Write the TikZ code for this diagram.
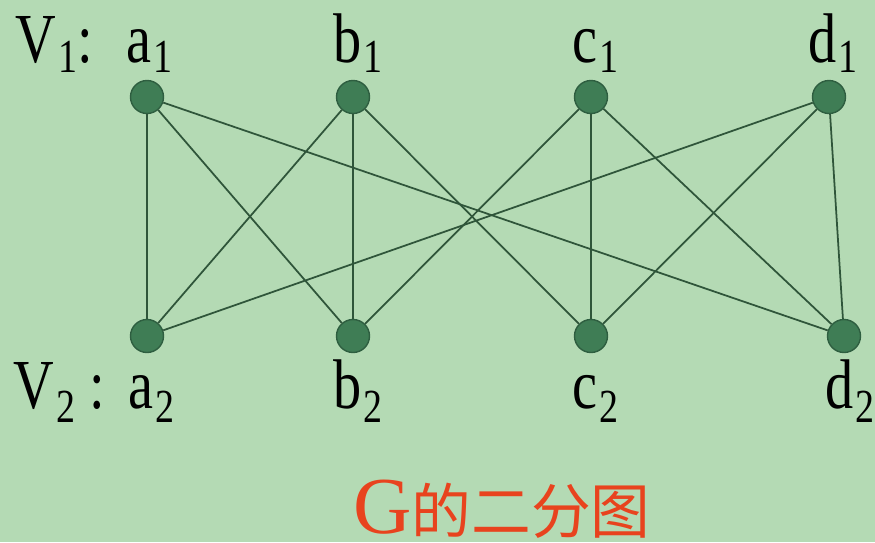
\documentclass[tikz,border=0pt]{standalone}
\usepackage{fontspec}
\setmainfont{Liberation Serif}
\newfontfamily\cjk{Noto Sans CJK SC}
\definecolor{bggreen}{HTML}{B4DAB4}
\definecolor{vertexfill}{HTML}{3F7D55}
\definecolor{vertexdraw}{HTML}{2E5E40}
\definecolor{edgecol}{HTML}{2F553A}
\definecolor{titlered}{HTML}{E8431E}
% letter with a lowered digit, squeezed like the slide font
\newcommand{\vsub}[3]{\scalebox{0.8}[1]{#1\kern1.5pt\raisebox{-#3}{\fontsize{27}{27}\selectfont #2}}}
\tikzset{
  vertex/.style={circle, fill=vertexfill, draw=vertexdraw, line width=0.8pt,
                 minimum size=0.66cm, inner sep=0pt},
  edge/.style={edgecol, line width=1pt},
  vlabel/.style={font=\fontsize{40}{44}\selectfont, inner sep=0pt, anchor=base west},
}

\begin{document}
\begin{tikzpicture}[x=0.02cm, y=-0.02cm]
    \fill[bggreen] (0,0) rectangle (875,542);
    \useasboundingbox (0,0) rectangle (875,542);
    % top part V1
    \node[vertex] (a1) at (147, 97) {};
    \node[vertex] (b1) at (353, 97) {};
    \node[vertex] (c1) at (591, 97) {};
    \node[vertex] (d1) at (829, 97) {};
    % bottom part V2
    \node[vertex] (a2) at (147, 336) {};
    \node[vertex] (b2) at (353, 336) {};
    \node[vertex] (c2) at (591, 336) {};
    \node[vertex] (d2) at (844, 336) {};
    \draw[edge] (a1) -- (a2);
    \draw[edge] (a1) -- (b2);
    \draw[edge] (a1) -- (d2);
    \draw[edge] (b1) -- (a2);
    \draw[edge] (b1) -- (b2);
    \draw[edge] (b1) -- (c2);
    \draw[edge] (c1) -- (b2);
    \draw[edge] (c1) -- (c2);
    \draw[edge] (c1) -- (d2);
    \draw[edge] (d1) -- (a2);
    \draw[edge] (d1) -- (c2);
    \draw[edge] (d1) -- (d2);
    % labels
    \node[vlabel] (lv1) at (15, 62) {\vsub{V}{1}{5.7pt}\scalebox{0.8}[1]{:}};
    \node[vlabel] (la1) at (126, 62) {\vsub{a}{1}{5.7pt}};
    \node[vlabel] (lb1) at (333, 62) {\vsub{b}{1}{5.7pt}};
    \node[vlabel] (lc1) at (572, 62) {\vsub{c}{1}{5.7pt}};
    \node[vlabel] (ld1) at (808, 62) {\vsub{d}{1}{5.7pt}};
    \node[vlabel] (lv2) at (13, 408) {\vsub{V}{2}{8pt}\kern8pt\scalebox{0.8}[1]{:}};
    \node[vlabel] (la2) at (128, 408) {\vsub{a}{2}{8pt}};
    \node[vlabel] (lb2) at (333, 408) {\vsub{b}{2}{8pt}};
    \node[vlabel] (lc2) at (572, 408) {\vsub{c}{2}{8pt}};
    \node[vlabel] (ld2) at (825, 408) {\vsub{d}{2}{8pt}};
    \node[inner sep=0pt, anchor=base west, text=titlered] (title) at (353, 533)
      {{\fontsize{46}{50}\selectfont G}{\cjk\fontsize{34}{40}\selectfont 的二分图}};
  \end{tikzpicture}
\end{document}
